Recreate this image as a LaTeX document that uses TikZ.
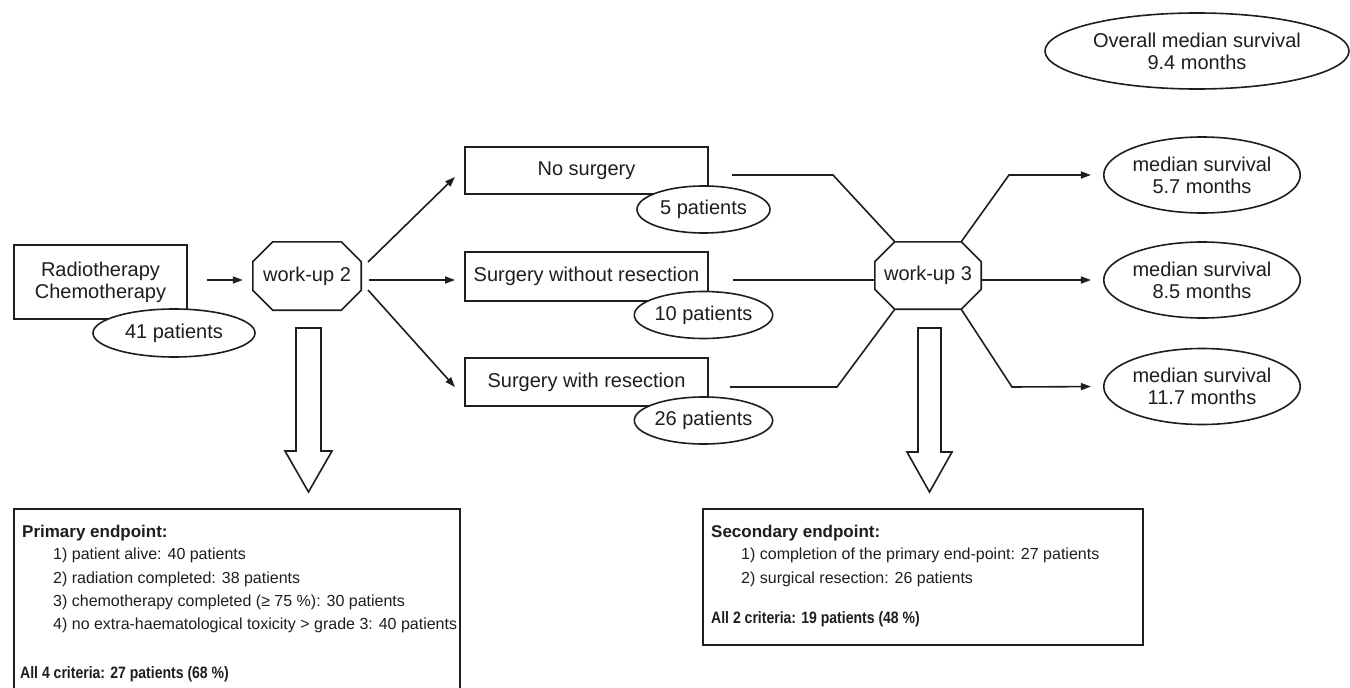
\documentclass[tikz,border=0pt]{standalone}
\usepackage{fontspec}
\setmainfont{Liberation Sans}
\newfontfamily\condsans[FakeStretch=0.85]{Liberation Sans}
\usetikzlibrary{shapes.geometric,arrows.meta,calc}
\definecolor{ink}{HTML}{1E1E1E}
\newcommand\fbig{\fontsize{20}{22}\selectfont}
\newcommand\fsml{\fontsize{16}{19}\selectfont}
\newcommand\fhead{\fontsize{17}{19}\selectfont\bfseries}
\newcommand\fsum{\condsans\fontsize{16.5}{19}\selectfont\bfseries}
\newcommand\myocto[1]{%
  \draw[ln] ($(#1.north west)+(20,0)$) coordinate (#1-tl)
    -- ($(#1.north east)+(-20,0)$) coordinate (#1-tr)
    -- ($(#1.north east)+(0,20)$)
    -- ($(#1.south east)+(0,-20)$)
    -- ($(#1.south east)+(-20,0)$) coordinate (#1-br)
    -- ($(#1.south west)+(20,0)$) coordinate (#1-bl)
    -- ($(#1.south west)+(0,-20)$)
    -- ($(#1.north west)+(0,20)$) -- cycle;}
\begin{document}
\begin{tikzpicture}[x=1pt,y=-1pt,
  ln/.style={draw=ink,line width=1.6pt,line join=miter},
  arr/.style={ln,-{Triangle[length=10pt,width=7pt]}},
  boxn/.style={rectangle,ln,fill=white,inner sep=0pt,font=\fbig,text=ink,align=center},
  elln/.style={ellipse,ln,fill=white,inner sep=0pt,font=\fbig,text=ink,align=center},
  octn/.style={rectangle,draw=none,inner sep=0pt,font=\fbig,text=ink},
  txt/.style={anchor=base west,inner sep=0pt,font=\fsml,text=ink},
  htxt/.style={txt,font=\fhead},
  stxt/.style={txt,font=\fsum}]
\clip (0,0) rectangle (1350,688);
\fill[white] (0,0) rectangle (1350,688);

% top row
\node[boxn,minimum width=173pt,minimum height=74pt] (rc) at (100.5,282) {Radiotherapy\\Chemotherapy};
\node[elln,minimum width=162pt,minimum height=48pt] (p41) at (174,333) {41 patients};

\node[octn,minimum width=108pt,minimum height=68pt] (w2) at (307,276) {work-up 2};
\myocto{w2}

\node[boxn,minimum width=243pt,minimum height=47pt] (ns) at (586.5,170.5) {No surgery};
\node[boxn,minimum width=243pt,minimum height=49pt] (swo) at (586.5,276.5) {Surgery without resection};
\node[boxn,minimum width=243pt,minimum height=48pt] (sw) at (586.5,382) {Surgery with resection};
\node[elln,minimum width=133pt,minimum height=47pt] (p5) at (703.5,209.5) {5 patients};
\node[elln,minimum width=133pt,minimum height=47pt] (p10) at (703.5,315) {10 patients};
\node[elln,minimum width=133pt,minimum height=47pt] (p26) at (703.5,420.5) {26 patients};

\node[octn,minimum width=106pt,minimum height=67pt] (w3) at (928,275.5) {work-up 3};
\myocto{w3}

\node[elln,minimum width=190pt,minimum height=76pt] (m57) at (1202,175) {median survival\\5.7 months};
\node[elln,minimum width=190pt,minimum height=76pt] (m85) at (1202,280) {median survival\\8.5 months};
\node[elln,minimum width=190pt,minimum height=76pt] (m117) at (1202,386.5) {median survival\\11.7 months};
\node[elln,minimum width=304pt,minimum height=76pt] (ov) at (1197,51) {Overall median survival\\9.4 months};

% arrows left part
\coordinate (a0) at (207,280);
\draw[arr,shorten >=10pt] (a0) -- (a0 -| w2.west);
\coordinate (b1s) at (368,262); \coordinate (b1e) at (455,177);
\coordinate (b2s) at (369,280); \coordinate (b2e) at (455,280);
\coordinate (b3s) at (368,290); \coordinate (b3e) at (455,387);
\draw[arr] (b1s) -- (b1e);
\draw[arr] (b2s) -- (b2e);
\draw[arr] (b3s) -- (b3e);

% lines into work-up 3
\coordinate (l1s) at (732,175); \coordinate (l1b) at (833,175);
\coordinate (l2s) at (733,280);
\coordinate (l3s) at (730,387); \coordinate (l3b) at (837,387);
\draw[ln] (l1s) -- (l1b) -- (w3-tl);
\draw[ln] (l2s) -- (l2s -| w3.west);
\draw[ln] (l3s) -- (l3b) -- (w3-bl);

% out of work-up 3
\coordinate (r1b) at (1009,175);
\coordinate (r3b) at (1012,387);
\draw[arr,shorten >=12pt] (w3-tr) -- (r1b) -- (m57.west);
\draw[arr,shorten >=12pt] (w3.east |- m85.west) -- (m85.west);
\draw[arr,shorten >=12pt] (w3-br) -- (r3b) -- (m117.west);

% hollow arrows
\coordinate (h1) at (308.5,328);
\draw[ln] ($(h1)+(-12.5,0)$) -- ($(h1)+(12.5,0)$) -- ($(h1)+(12.5,123)$) -- ($(h1)+(23.5,123)$)
  -- ($(h1)+(0,164)$) -- ($(h1)+(-23.5,123)$) -- ($(h1)+(-12.5,123)$) -- cycle;
\coordinate (h2) at (929.5,328);
\draw[ln] ($(h2)+(-11.5,0)$) -- ($(h2)+(11.5,0)$) -- ($(h2)+(11.5,124)$) -- ($(h2)+(22.5,124)$)
  -- ($(h2)+(0,164)$) -- ($(h2)+(-22.5,124)$) -- ($(h2)+(-11.5,124)$) -- cycle;

% bottom boxes
\node[rectangle,ln,minimum width=446pt,minimum height=185pt,inner sep=0pt] (prim) at (237,601.5) {};
\node[rectangle,ln,minimum width=440pt,minimum height=136pt,inner sep=0pt] (sec) at (923,577) {};

\node[htxt] (pt0) at (22,537) {Primary endpoint:};
\node[txt] (pt1) at (53,559) {1) patient alive: 40 patients};
\node[txt] (pt2) at (53,583) {2) radiation completed: 38 patients};
\node[txt] (pt3) at (53,606) {3) chemotherapy completed (≥ 75 \%): 30 patients};
\node[txt] (pt4) at (53,629) {4) no extra-haematological toxicity > grade 3: 40 patients};
\node[stxt] (pt5) at (20,678) {All 4 criteria: 27 patients (68 \%)};

\node[htxt] (st0) at (711,537) {Secondary endpoint:};
\node[txt] (st1) at (741,559) {1) completion of the primary end-point: 27 patients};
\node[txt] (st2) at (741,583) {2) surgical resection: 26 patients};
\node[stxt] (st3) at (711,623) {All 2 criteria: 19 patients (48 \%)};
\end{tikzpicture}
\end{document}
